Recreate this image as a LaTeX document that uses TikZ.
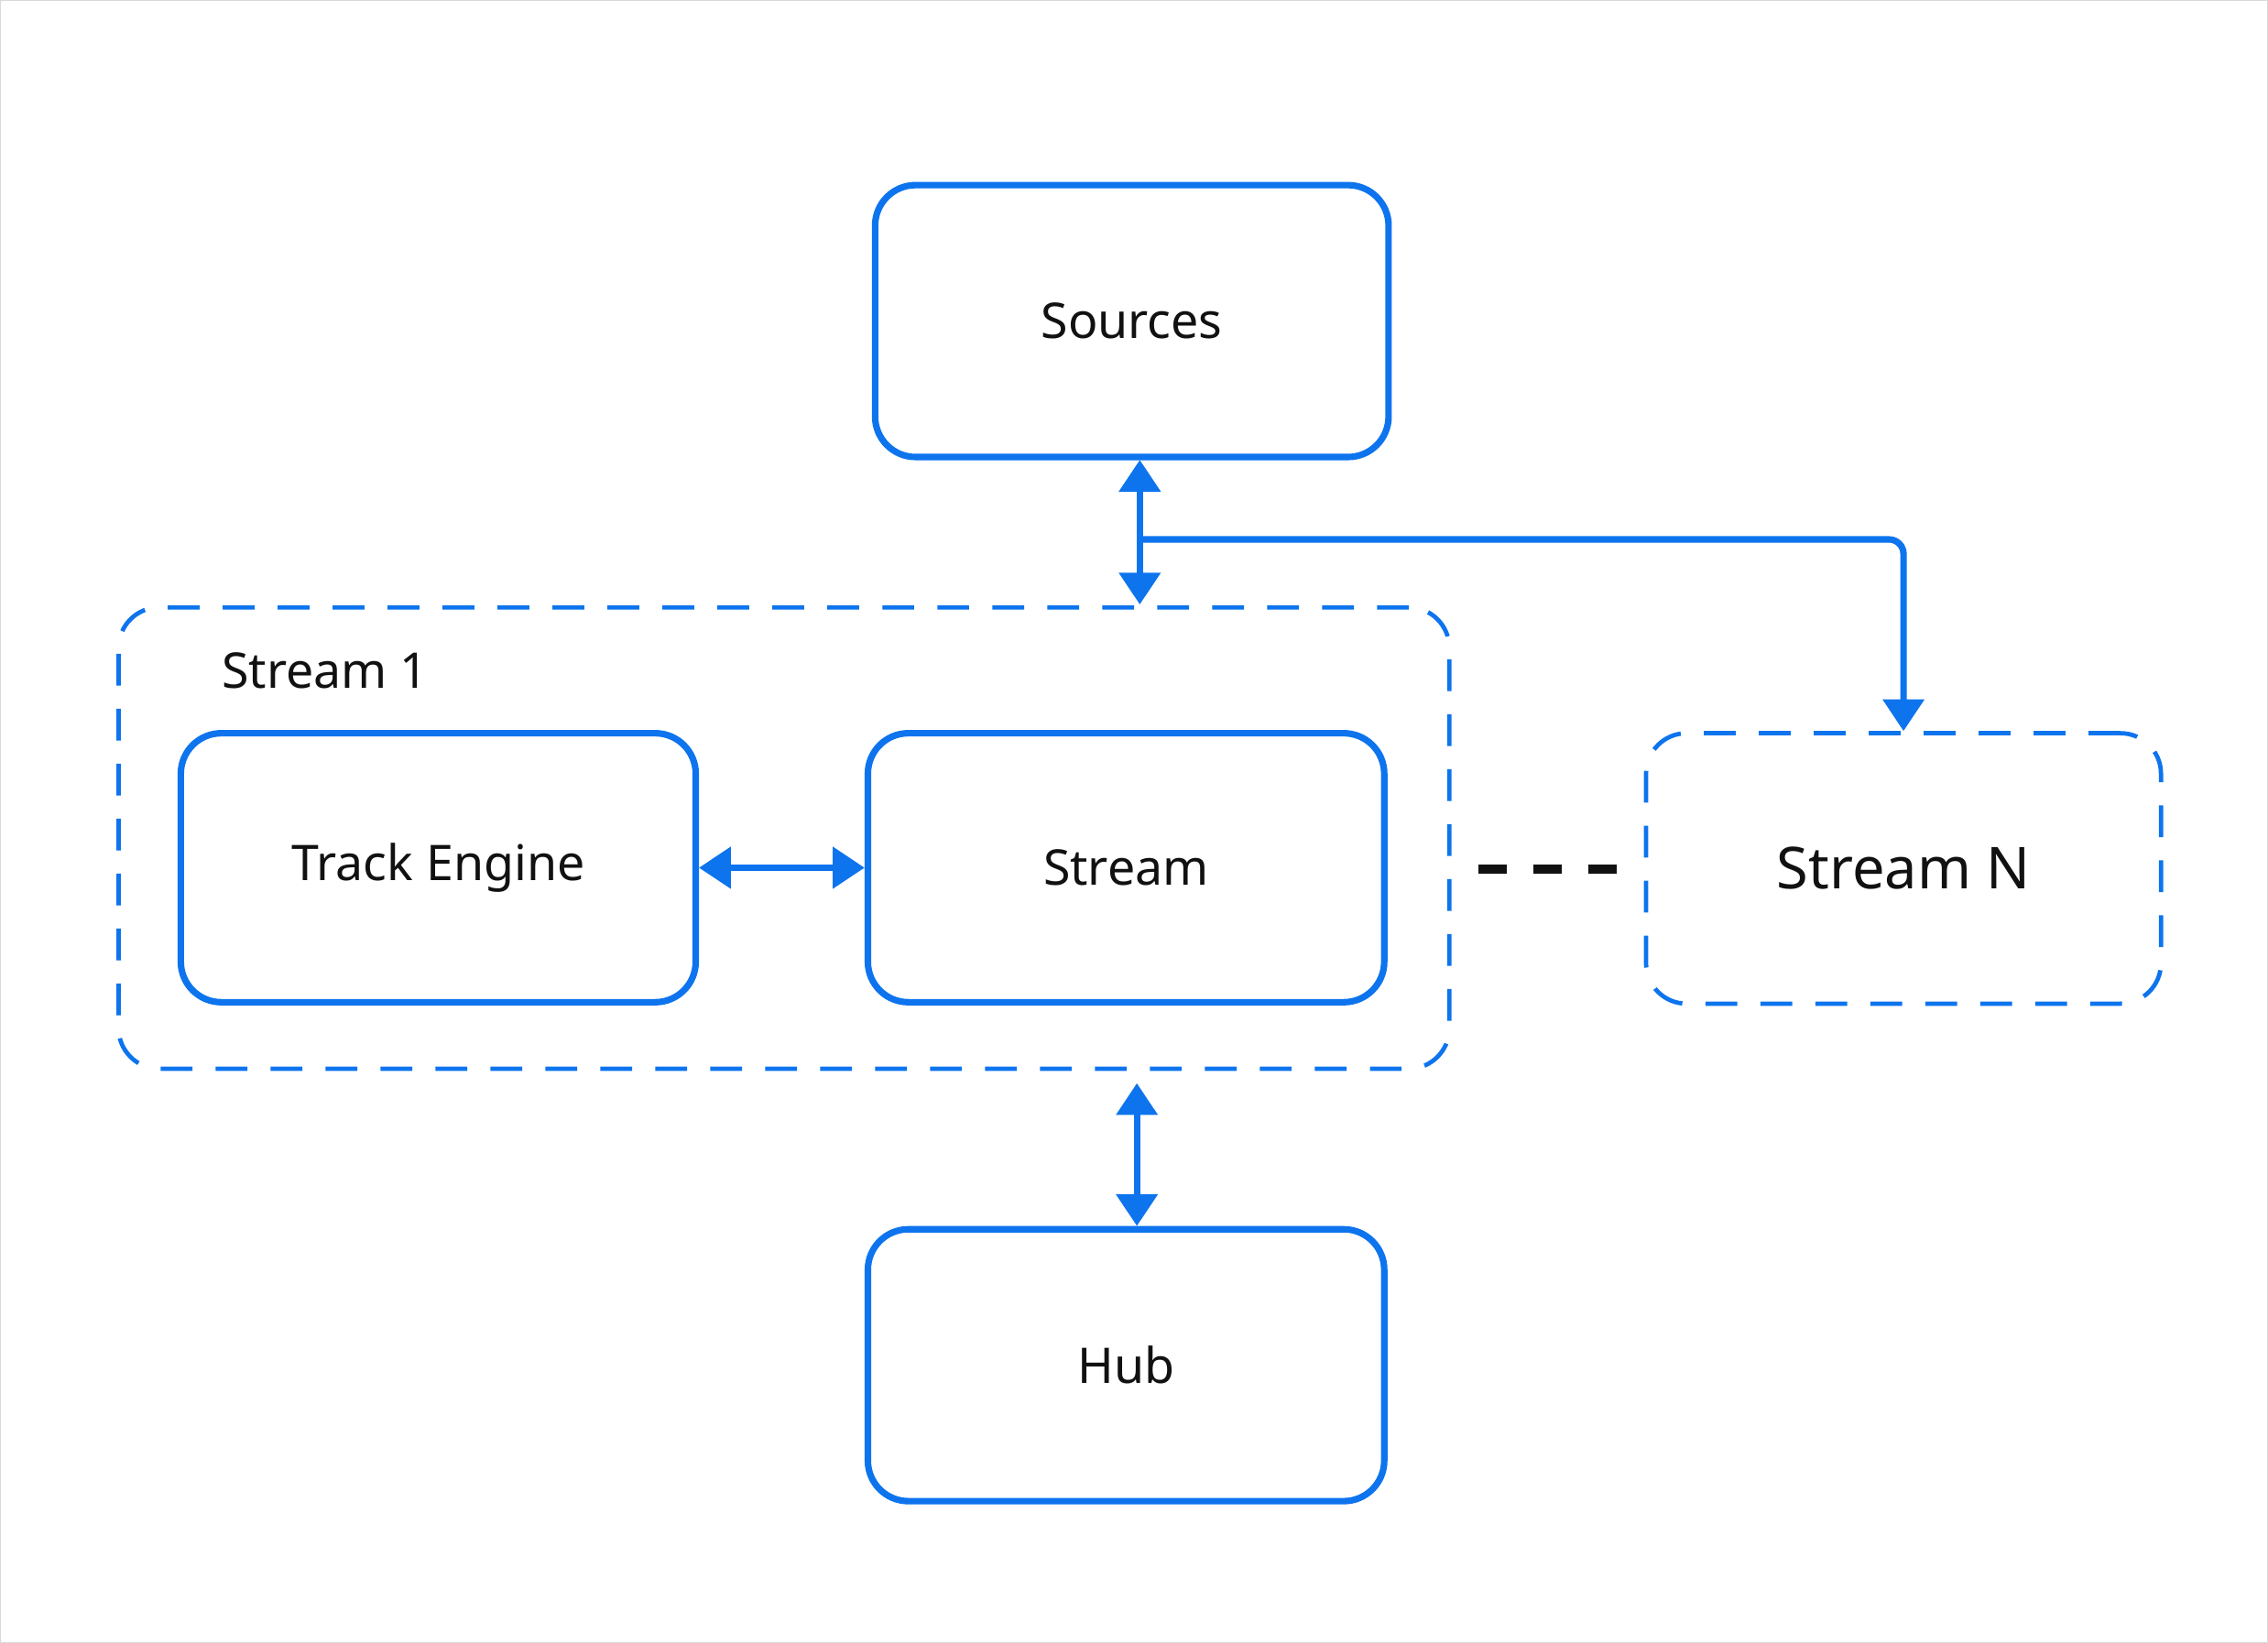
\documentclass[tikz,border=0pt]{standalone}
\usepackage{fontspec}
\setmainfont{Noto Sans}
\usetikzlibrary{arrows.meta}
\definecolor{bl}{HTML}{0D74EE}
\definecolor{tx}{HTML}{111111}
\begin{document}
\begin{tikzpicture}[x=1pt,y=-1pt,
  box/.style={draw=bl,line width=4.5pt,rounded corners=28pt,inner sep=0pt,text=tx,font=\fontsize{34}{40}\selectfont},
  dbox/.style={box,dashed,line width=3pt,dash pattern=on 22pt off 16pt},
  arr/.style={draw=bl,line width=4.5pt,{Triangle[width=28pt,length=22pt]}-{Triangle[width=28pt,length=22pt]}},
  ]
\useasboundingbox (0,0) rectangle (1568,1136);
\draw[gray!30,line width=1.5pt] (0,0) rectangle (1568,1136);
\node[dbox,minimum width=920pt,minimum height=319pt] (s1) at (542,579.5) {};
\node[font=\bfseries\fontsize{34}{40}\selectfont,text=tx,anchor=west] (s1l) at (150,464) {Stream 1};
\node[box,minimum width=355pt,minimum height=188pt] (src) at (782.5,222) {Sources};
\node[box,minimum width=356pt,minimum height=186pt] (te) at (303,600) {Track Engine};
\node[box,minimum width=357pt,minimum height=186pt] (st) at (778.5,600) {Stream};
\node[dbox,minimum width=356pt,minimum height=187pt,font=\fontsize{40}{46}\selectfont] (sn) at (1316,600.5) {Stream N};
\node[box,minimum width=357pt,minimum height=188pt] (hub) at (778.5,944) {Hub};
\coordinate (a1) at (788,318);
\coordinate (a2) at (788,418);
\draw[arr] (a1) -- (a2);
\draw[draw=bl,line width=4.5pt,rounded corners=10pt,-{Triangle[width=28pt,length=22pt]}] (788,373) -- (1316,373) -- (sn.north -| 1316,0);
\coordinate (h1) at (786,749);
\draw[arr] (h1) -- (hub.north -| h1);
\draw[arr] (te.east) -- (st.west);
\coordinate (d1) at (1022,601);
\coordinate (d2) at (1118,601);
\draw[tx,line width=6pt,dash pattern=on 20pt off 18pt] (d1) -- (d2);
\end{tikzpicture}
\end{document}
